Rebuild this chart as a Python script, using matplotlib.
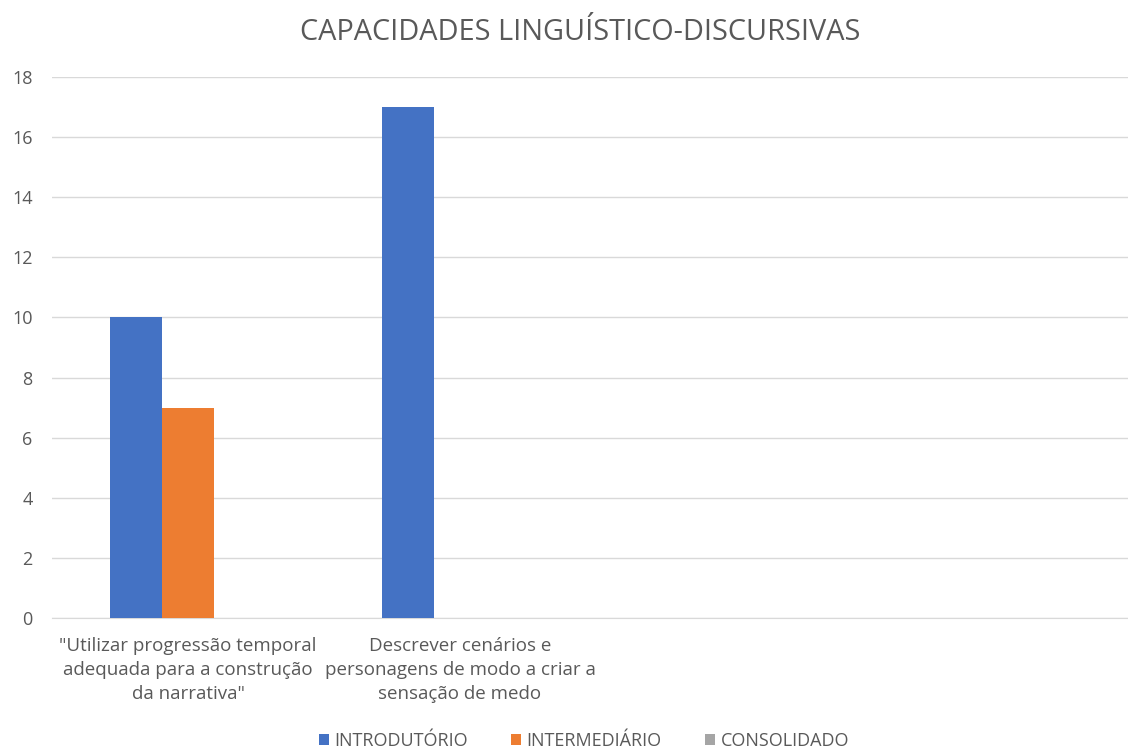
import numpy as np
import matplotlib.pyplot as plt

plt.rcParams['font.family'] = ['Open Sans', 'DejaVu Sans']

categories = ['"Utilizar progressão temporal\nadequada para a construção\nda narrativa"',
              'Descrever cenários e\npersonagens de modo a criar a\nsensação de medo',
              '', '']
series = ['INTRODUTÓRIO', 'INTERMEDIÁRIO', 'CONSOLIDADO']
introdutorio = [10, 17, 0, 0]
intermediario = [7, 0, 0, 0]
consolidado = [0, 0, 0, 0]
colors = ['#4472C4', '#ED7D31', '#A5A5A5']
text_color = '#595959'

fig = plt.figure(figsize=(11.28, 7.49), dpi=100)
W, H = 1128, 749
left, right, top, bottom = 52, 1140, 77, 618
ax = fig.add_axes([left / W, (H - bottom) / H, (right - left) / W, (bottom - top) / H])

x = np.arange(len(categories))
bw = 52 / 272
for i, (vals, name) in enumerate(zip([introdutorio, intermediario, consolidado], series)):
    ax.bar(x + (i - 1) * bw, vals, width=bw, color=colors[i], label=name, zorder=3)

ax.set_xlim(-0.5, len(categories) - 0.5)
ax.set_ylim(0, 18)
ax.set_yticks(range(0, 19, 2))
ax.yaxis.grid(True, color='#D9D9D9', linewidth=1, zorder=0)
for s in ['top', 'right', 'left']:
    ax.spines[s].set_visible(False)
ax.spines['bottom'].set_color('#D9D9D9')
ax.tick_params(axis='both', length=0, colors=text_color)
ax.tick_params(axis='y', pad=14, labelsize=13)
ax.set_xticks(x)
ax.set_xticklabels(categories, fontsize=13.5, color=text_color, linespacing=1.42)
ax.tick_params(axis='x', pad=14)

fig.text(580 / W, 1 - 33 / H, 'CAPACIDADES LINGUÍSTICO-DISCURSIVAS', ha='center', va='center',
         fontsize=20.8, color=text_color)

fig.legend(loc='center', bbox_to_anchor=(584 / W, 1 - 741 / H), ncol=3, frameon=False,
           fontsize=13, handlelength=0.55, handleheight=0.55, handletextpad=0.3,
           columnspacing=2.4, labelcolor=text_color)

fig.savefig('out.png', dpi=100)
